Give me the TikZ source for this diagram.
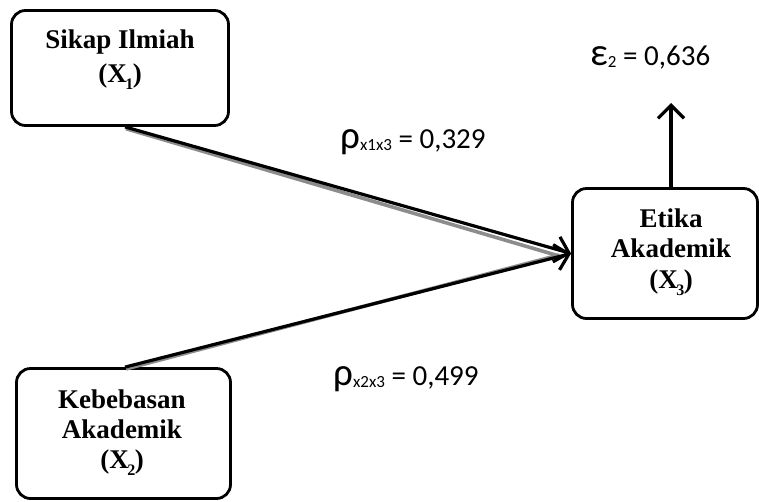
\documentclass[tikz,border=0pt]{standalone}
\usepackage{fontspec}
\setmainfont{Liberation Serif}
\newfontfamily\calib{Carlito}
\usetikzlibrary{arrows.meta}
\newcommand{\sbx}[1]{\kern-1.5pt\raisebox{-7pt}{\fontsize{16}{16}\selectfont #1}\kern-0.5pt}
\newcommand{\sbl}[1]{\raisebox{-2pt}{\fontsize{17}{17}\selectfont #1}}
\newcommand{\grk}[1]{{\fontsize{39}{39}\selectfont #1}}
\begin{document}
\begin{tikzpicture}[x=1pt,y=1pt,
  box/.style={draw,line width=2.8pt,rounded corners=14pt,inner sep=0pt},
  boxtxt/.style={font=\bfseries\fontsize{27}{30}\selectfont,anchor=base,inner sep=0pt},
  lbl/.style={font=\calib\fontsize{29}{29}\selectfont,anchor=base west,inner sep=0pt},
  conn/.style={line width=3.2pt,-{Straight Barb[length=13pt,width=26pt]}},
  shade/.style={line width=3.6pt,black!45}]
\useasboundingbox (0,0) rectangle (759,-501);
% boxes
\node[box,minimum width=217pt,minimum height=115pt] (x1) at (120,-68) {};
\node[box,minimum width=214pt,minimum height=130pt] (x2) at (123.5,-433.5) {};
\node[box,minimum width=185pt,minimum height=130pt] (x3) at (665,-253.5) {};
% box texts
\node[boxtxt] (t1a) at (120,-48) {Sikap Ilmiah};
\node[boxtxt] (t1b) at (120,-82) {(X\sbx{1})};
\node[boxtxt] (t2a) at (122,-408) {Kebebasan};
\node[boxtxt] (t2b) at (122,-438) {Akademik};
\node[boxtxt] (t2c) at (122,-468) {(X\sbx{2})};
\node[boxtxt] (t3a) at (671,-227) {Etika};
\node[boxtxt] (t3b) at (671,-257) {Akademik};
\node[boxtxt] (t3c) at (671,-288) {(X\sbx{3})};
% connectors
\coordinate (s1) at ([xshift=5pt]x1.south);
\coordinate (s2) at ([xshift=1.5pt]x2.north);
\coordinate (u3) at ([xshift=6pt]x3.north);
\coordinate (eps) at (671,-103);
\draw[shade] ([shift={(1,-1.8)}]s1) -- ([shift={(-12,-2.5)}]x3.west);
\draw[shade] ([shift={(1,-1.8)}]s2) -- ([shift={(-12,-1.5)}]x3.west);
\draw[conn] (s1) -- (x3.west);
\draw[conn] (s2) -- (x3.west);
\draw[conn] (u3) -- (eps);
% labels
\node[lbl] (le) at (590,-65) {\grk{ε}\sbl{2} = 0,636};
\node[lbl] (l1) at (340,-148) {\grk{ρ}\sbl{x1x3} = 0,329};
\node[lbl] (l2) at (333,-385) {\grk{ρ}\sbl{x2x3} = 0,499};
\end{tikzpicture}
\end{document}
